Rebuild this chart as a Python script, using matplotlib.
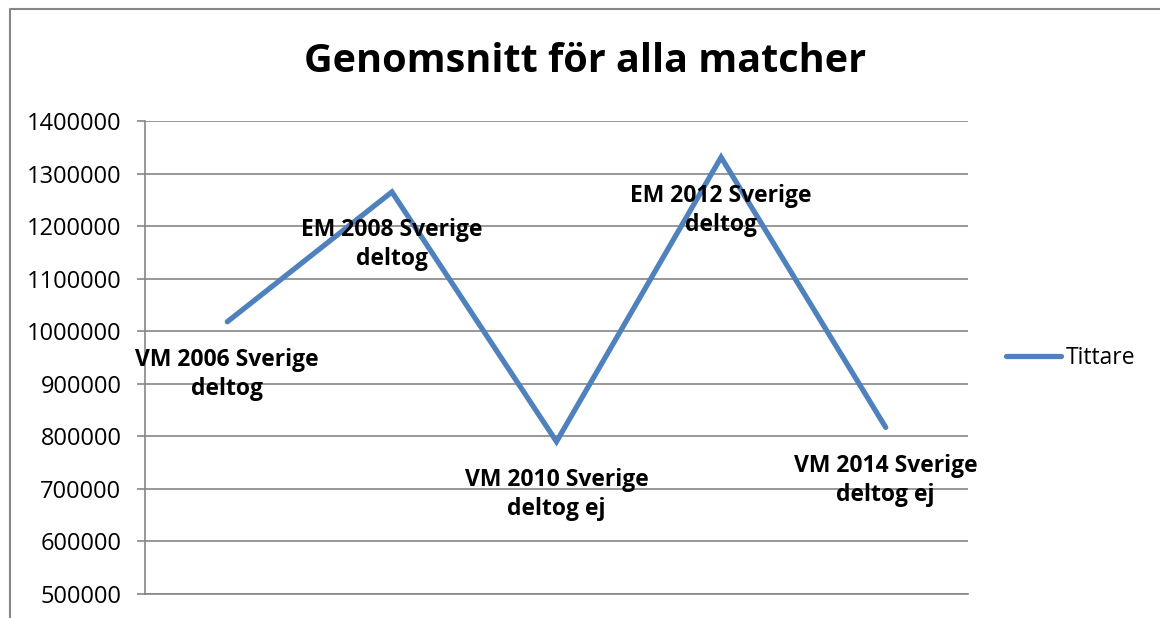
import matplotlib.pyplot as plt
from matplotlib.lines import Line2D

plt.rcParams['font.family'] = ['Open Sans', 'DejaVu Sans']

# Data
labels = ["VM 2006 Sverige\ndeltog", "EM 2008 Sverige\ndeltog", "VM 2010 Sverige\ndeltog ej",
          "EM 2012 Sverige\ndeltog", "VM 2014 Sverige\ndeltog ej"]
tittare = [1018000, 1265000, 790000, 1331000, 817000]
yticks = list(range(500000, 1400001, 100000))

W, H = 1160, 618
fig = plt.figure(figsize=(W / 100, H / 100), dpi=100)
ax = fig.add_axes([145 / W, 1 - 594 / H, (968 - 145) / W, (594 - 121) / H])

grey = "#868686"
blue = "#4F81BD"

x = list(range(len(tittare)))
ax.plot(x, tittare, color=blue, lw=3.8, solid_capstyle="round", solid_joinstyle="miter")

for xi, yi, lab in zip(x, tittare, labels):
    ax.annotate(lab, (xi, yi), xytext=(0, -53), textcoords="offset pixels",
                ha="center", va="center", fontsize=16.5, fontweight="bold",
                linespacing=1.28, color="black")

ax.set_xlim(-0.5, len(tittare) - 0.5)
ax.set_ylim(500000, 1400000)
ax.set_yticks(yticks)
ax.set_yticklabels([str(v) for v in yticks], fontsize=17)
ax.set_xticks([])
ax.yaxis.grid(True, color=grey, lw=1.2)
ax.set_axisbelow(True)
ax.tick_params(axis="y", length=6, width=1.2, color=grey, pad=11)
for s in ["top", "right"]:
    ax.spines[s].set_visible(False)
ax.spines["left"].set_color(grey)
ax.spines["bottom"].set_color(grey)
ax.spines["left"].set_linewidth(1.2)
ax.spines["bottom"].set_linewidth(1.2)

fig.text(585 / W, 1 - 62 / H, "Genomsnitt för alla matcher", ha="center", va="center",
         fontsize=28.5, fontweight="bold")

# legend
handle = Line2D([], [], color=blue, lw=3.8, solid_capstyle="round")
fig.legend([handle], ["Tittare"], loc="center left", bbox_to_anchor=(995 / W, 1 - 358 / H),
           frameon=False, fontsize=16.5, handlelength=2.4, handletextpad=0.2, borderpad=0)

# outer chart border (top and left only visible)
fig.add_artist(Line2D([10 / W, 10 / W, 1.0], [0.0, 1 - 9 / H, 1 - 9 / H],
                      transform=fig.transFigure, color=grey, lw=1.5))

fig.savefig("out.png", dpi=100)
